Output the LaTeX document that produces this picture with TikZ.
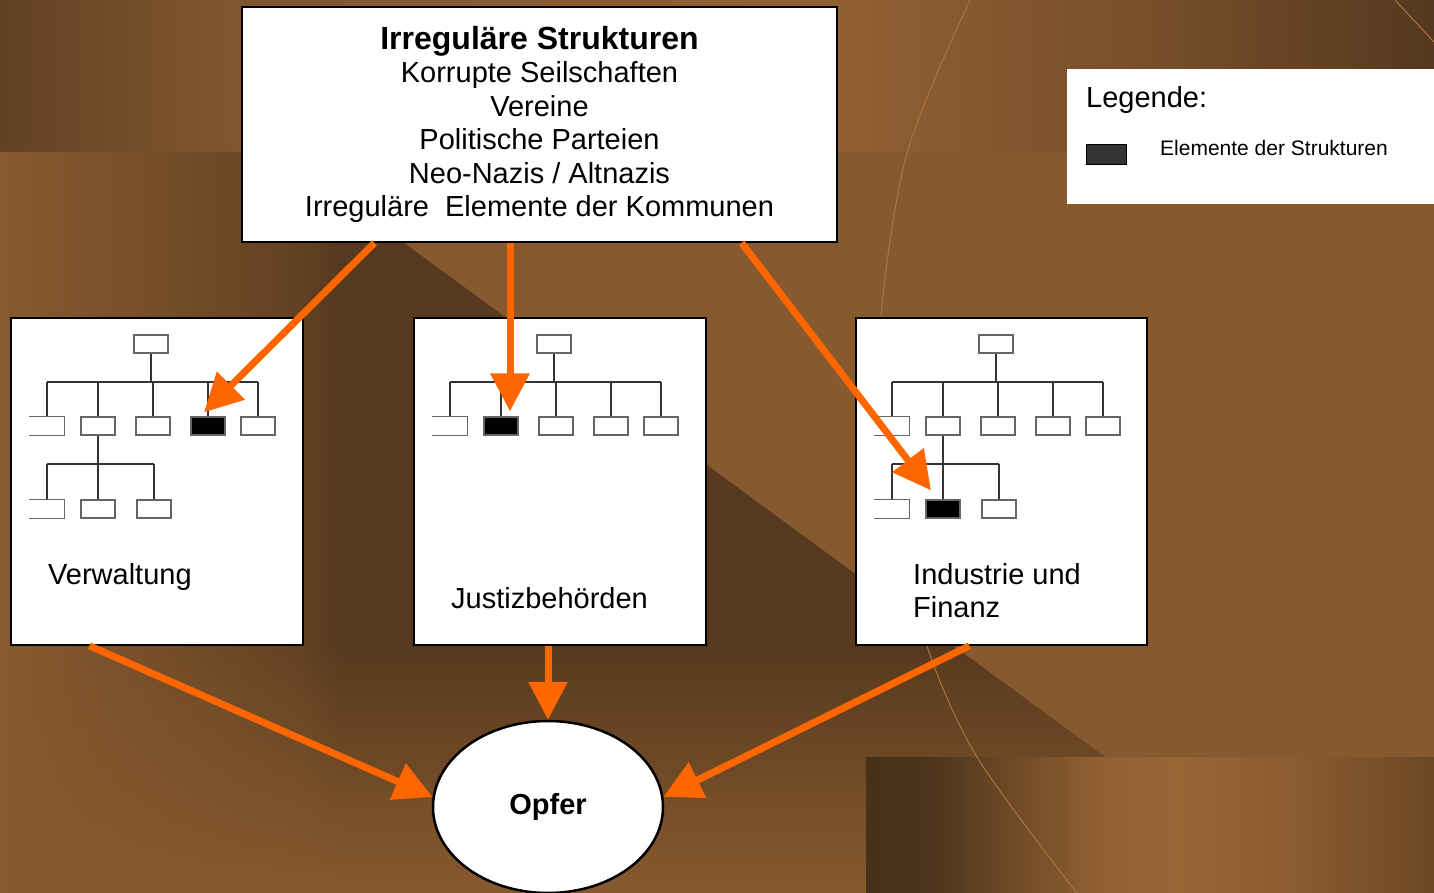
\documentclass[tikz,border=0pt]{standalone}
\usepackage{fontspec}
\setmainfont{Liberation Sans}
\usetikzlibrary{shapes.geometric,arrows.meta,calc,fadings}

\definecolor{bgbase}{RGB}{134,89,47}
\definecolor{pfeilorange}{RGB}{255,102,0}
\definecolor{legendgrau}{RGB}{51,51,51}
\definecolor{bogen}{RGB}{172,116,62}
% Kopfband
\definecolor{ta}{RGB}{98,65,37}
\definecolor{tb}{RGB}{130,87,46}
\definecolor{tc}{RGB}{145,96,50}
\definecolor{td}{RGB}{118,78,42}
\definecolor{te}{RGB}{85,56,31}
\pgfdeclarehorizontalshading{kopfband}{100bp}{color(0bp)=(ta); color(25bp)=(ta);
  color(33.4bp)=(tb); color(54.3bp)=(tc); color(65.4bp)=(td); color(75bp)=(te); color(100bp)=(te)}
% linkes Feld
\definecolor{la}{RGB}{136,90,47}
\definecolor{lb}{RGB}{118,78,41}
\definecolor{lc}{RGB}{98,65,35}
\definecolor{ld}{RGB}{86,57,30}
\pgfdeclarehorizontalshading{linksfeld}{100bp}{color(0bp)=(la); color(25bp)=(la);
  color(31.8bp)=(lb); color(38.6bp)=(lc); color(40.4bp)=(ld); color(100bp)=(ld)}
% Fussband
\definecolor{ua}{RGB}{72,48,25}
\definecolor{ub}{RGB}{76,51,27}
\definecolor{uc}{RGB}{105,70,37}
\definecolor{ud}{RGB}{145,96,50}
\definecolor{ue}{RGB}{152,101,53}
\definecolor{uf}{RGB}{138,91,47}
\definecolor{ug}{RGB}{108,71,37}
\pgfdeclarehorizontalshading{fussband}{100bp}{color(0bp)=(ua); color(25bp)=(ua);
  color(30.6bp)=(ub); color(36.8bp)=(uc); color(45.6bp)=(ud); color(52.6bp)=(ue);
  color(63.2bp)=(uf); color(75bp)=(ug); color(100bp)=(ug)}
\tikzfading[name=nachoben, top color=transparent!100, bottom color=transparent!0]

% #1 Praefix, #2/#3 linke obere Ecke, #4 schwarzes Feld Ebene 1, #5 schwarzes Feld Ebene 2 (-1 = keine Ebene 2)
\newcommand{\organigramm}[5]{%
  \begin{scope}[shift={(#2,#3)}]
    \node[orgbox] (#1top) at (140,26) {};
    \draw[orglinie] (#1top.south) -- (140,64);
    \draw[orglinie] (36,64) -- (247,64);
    \foreach \c [count=\i] in {36,87,142,197,247}
      {\ifnum\i=#4\relax
         \node[orgbox,fill=black] (#1a\i) at (\c,108) {};
       \else\ifnum\i=1\relax
         \node[orgbox,draw=none] (#1a\i) at (\c,108) {};
       \else
         \node[orgbox] (#1a\i) at (\c,108) {};
       \fi\fi
       \draw[orglinie] (\c,64) -- (#1a\i.north);}
    \draw[orgrand] (#1a1.north west) -- (#1a1.north east) -- (#1a1.south east) -- (#1a1.south west);
    \ifnum#5>-1\relax
      \draw[orglinie] (#1a2.south) -- (87,146);
      \draw[orglinie] (36,146) -- (143,146);
      \foreach \c [count=\i] in {36,87,143}
        {\ifnum\i=#5\relax
           \node[orgbox,fill=black] (#1b\i) at (\c,191) {};
         \else\ifnum\i=1\relax
           \node[orgbox,draw=none] (#1b\i) at (\c,191) {};
         \else
           \node[orgbox] (#1b\i) at (\c,191) {};
         \fi\fi
         \draw[orglinie] (\c,146) -- (#1b\i.north);}
      \draw[orgrand] (#1b1.north west) -- (#1b1.north east) -- (#1b1.south east) -- (#1b1.south west);
    \fi
  \end{scope}}

\begin{document}
\begin{tikzpicture}[x=1pt,y=-1pt,
    kasten/.style={draw=black,line width=1.6pt,fill=white,inner sep=0pt},
    orgbox/.style={draw=black!60,line width=1.3pt,fill=white,minimum width=34pt,minimum height=18pt,inner sep=0pt},
    orgrand/.style={draw=black!60,line width=1.3pt},
    orglinie/.style={draw=black!80,line width=1.1pt},
    pfeil/.style={draw=pfeilorange,line width=7pt,-{Triangle[length=38pt,width=38pt]}},
    gross/.style={font=\fontsize{29}{33.4}\selectfont},
    ]
    \useasboundingbox (0,0) rectangle (1434,893);
    % Hintergrund
    \fill[bgbase] (0,0) rectangle (1434,893);
    \shade[shading=kopfband] (0,0) rectangle (1434,152);
    \shade[shading=linksfeld] (0,152) -- (280,152) -- (1105,757) -- (1105,893) -- (0,893) -- cycle;
    \begin{scope}
        \clip (0,152) -- (280,152) -- (1105,757) -- (1105,893) -- (0,893) -- cycle;
        \fill[la,path fading=nachoben] (0,640) rectangle (1105,893);
    \end{scope}
    \shade[shading=fussband] (866,757) rectangle (1434,893);
    \draw[bogen,line width=1pt] plot[smooth] coordinates
        {(970,0) (907,153) (880,330) (887,480) (925,640) (977,757) (1077,893)};
    \draw[bogen,line width=1pt] (1395,0) -- (1434,42);

    % Kaesten
    \node[kasten,minimum width=595pt,minimum height=235pt,align=center,gross] (irreg) at (539.5,124.5)
        {{\fontsize{32}{33.4}\selectfont\bfseries Irreguläre Strukturen}\\Korrupte Seilschaften\\Vereine\\
         Politische Parteien\\Neo-Nazis / Altnazis\\Irreguläre~~Elemente der Kommunen};
    \node[fill=white,minimum width=367pt,minimum height=135pt,inner sep=0pt] (legende) at (1250.5,136.5) {};
    \node[anchor=base west,inner sep=0pt,gross] (legtitel) at (1086,108) {Legende:};
    \node[draw=black,line width=1pt,fill=legendgrau,minimum width=40pt,minimum height=20pt,inner sep=0pt]
        (legfeld) at (1106,155) {};
    \node[anchor=base west,inner sep=0pt,font=\fontsize{21}{25}\selectfont] (legtext) at (1160,156)
        {Elemente der Strukturen};

    \node[kasten,minimum width=292pt,minimum height=327pt] (verw) at (157,481.5) {};
    \node[kasten,minimum width=292pt,minimum height=327pt] (justiz) at (560,481.5) {};
    \node[kasten,minimum width=291pt,minimum height=327pt] (industrie) at (1001.5,481.5) {};
    \node[anchor=base west,inner sep=0pt,gross] (verwtext) at (48,584) {Verwaltung};
    \node[anchor=base west,inner sep=0pt,gross] (justiztext) at (451,608) {Justizbehörden};
    \node[anchor=north west,inner sep=0pt,gross,align=left] (industrietext) at (913,563)
        {Industrie und\\Finanz};

    \organigramm{v}{11}{318}{4}{0}
    \organigramm{j}{414}{318}{2}{-1}
    \organigramm{i}{856}{318}{0}{2}

    \node[draw=black,line width=2.5pt,fill=white,ellipse,minimum width=230pt,minimum height=172pt,
        inner sep=0pt,font=\fontsize{29}{33}\selectfont\bfseries] (opfer) at (548,807) {Opfer};

    % Pfeile
    \coordinate (jspitze) at ($(ja2.north)+(9,-5)$);
    \draw[pfeil] ($(irreg.south west)!.2235!(irreg.south east)$) -- ($(va4.north)+(-4,-4)$);
    \draw[pfeil] (irreg.south -| jspitze) -- (jspitze);
    \draw[pfeil] ($(irreg.south west)!.8387!(irreg.south east)$) -- ($(ib2.north)+(-12,-9)$);
    \draw[pfeil] ($(verw.south west)!.27!(verw.south east)$) -- (opfer.175);
    \draw[pfeil] (opfer.north |- justiz.south) -- (opfer.north);
    \draw[pfeil] ($(industrie.south west)!.39!(industrie.south east)$) -- (opfer.5);
\end{tikzpicture}
\end{document}
